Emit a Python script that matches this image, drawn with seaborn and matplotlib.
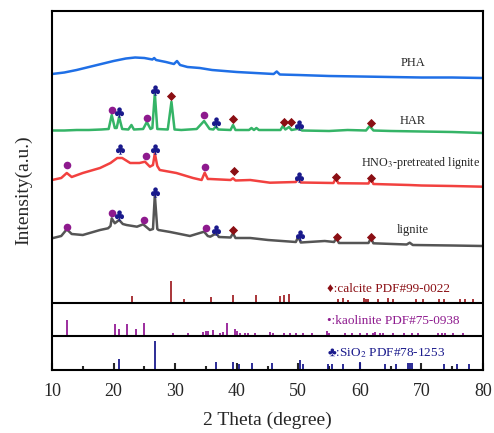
import numpy as np
import pandas as pd
import matplotlib
matplotlib.use("Agg")
import matplotlib.pyplot as plt
import seaborn as sns

# ---- XRD patterns (2theta, stacked intensity in a.u.) ----
pha_x = [10, 12, 14, 16, 18, 20, 22, 23.5, 25, 26.3, 26.6, 26.9, 28.5, 29.8, 30.3, 30.8,
         32, 34, 36, 38, 40, 43, 46, 46.5, 47, 50, 55, 60, 65, 70, 75, 80]
pha_y = [296, 297.5, 300, 303, 306, 309, 311.5, 312.5, 312, 310.5, 312, 310, 308, 306, 309, 305,
         303, 302, 300, 299, 298, 297, 296, 298.5, 295.5, 295, 294, 293.5, 293, 292.5, 292.5, 292]

har_x = [10, 12, 14, 16, 18, 19.2, 19.7, 20.2, 20.5, 20.9, 21.4, 22.4, 22.9, 23.3, 24.8, 25.4,
         26.0, 26.3, 26.7, 27.1, 28.8, 29.4, 29.9, 31, 33.5, 34.7, 35.6, 36.2, 36.6, 37.0,
         39.0, 39.4, 39.8, 42.0, 42.4, 42.8, 43.2, 43.6, 45, 47.1, 47.5, 47.9, 48.5, 48.9,
         50.2, 50.6, 55, 58, 61.0, 61.6, 62.2, 65, 70, 75, 80]
har_y = [239.5, 239.5, 240, 240, 240.5, 241, 255, 242, 242, 253, 241, 240.5, 245, 240.5, 241, 248,
         241, 242, 276.7, 241, 240.5, 268.3, 240.5, 240, 241, 249, 241, 240.5, 243.5, 240.5,
         240, 245, 240, 240, 242, 240, 242, 240, 240, 240, 244, 240.5, 243, 240,
         241.5, 239.5, 239, 240, 239.5, 244, 239.5, 239, 238.5, 238, 237]

hno3_x = [10, 11.5, 12.4, 13.2, 15, 17.8, 19.5, 20.6, 21.4, 22.7, 24.2, 25.1, 25.9, 26.4, 26.7,
          27.1, 27.5, 30.2, 32.9, 34.3, 34.8, 35.3, 35.7, 39.0, 39.4, 39.8, 42.2, 45.4, 49.6,
          50.0, 50.4, 55.7, 56.1, 56.5, 61.4, 61.8, 62.2, 68.0, 70, 75, 80]
hno3_y = [190, 192, 197, 193, 197, 202, 207, 212, 212, 207, 207, 208.3, 203.3, 205, 216.7,
          204, 200, 197, 192, 190, 197.3, 191, 191, 190, 191.7, 189.5, 190, 187.3, 188,
          191.7, 187.5, 187, 191.7, 186.8, 186.5, 191.7, 186, 185, 184.5, 184, 183.3]

lig_x = [10, 11.5, 12.4, 13.2, 15, 17.8, 19.1, 19.5, 19.7, 20.2, 20.9, 21.5, 22.1, 23.8, 24.8,
         25.9, 26.4, 26.7, 27.1, 27.3, 29.2, 32.4, 34.7, 35.3, 35.7, 36.7, 37.1, 39.0, 39.4,
         39.8, 42.2, 45.1, 49.6, 50.0, 50.4, 54.3, 55.8, 56.2, 56.6, 61.4, 61.8, 62.2, 67.6,
         68.1, 68.6, 75, 80]
lig_y = [131.7, 134, 140.7, 136, 135, 140, 141.7, 144, 151.7, 146.7, 150, 146, 145, 143.3, 145.7,
         140, 141, 175, 141, 140, 138, 134, 138.3, 134, 133.3, 136.7, 133, 132.5, 136.7,
         132, 132, 130, 128, 133.3, 127.5, 129, 128, 131.7, 127, 127, 131.7, 126.7, 125.5,
         127.3, 125, 124.5, 124]

# ---- phase markers (2theta, y, phase) ----
har_marks = [(19.7, 260, "k"), (20.9, 258.3, "q"), (25.4, 251.7, "k"), (26.7, 280, "q"),
             (29.4, 274.3, "c"), (34.7, 255, "k"), (36.6, 248.3, "q"), (39.4, 250.7, "c"),
             (47.6, 248.3, "c"), (48.8, 248, "c"), (50.1, 245, "q"), (61.8, 247.3, "c")]
hno3_marks = [(12.4, 205, "k"), (21.1, 220.7, "q"), (25.2, 214.3, "k"), (26.8, 221, "q"),
              (34.9, 203.3, "k"), (39.6, 199, "c"), (50.1, 193.3, "q"), (56.1, 193.3, "c"),
              (61.8, 191.7, "c")]
lig_marks = [(12.4, 143.3, "k"), (19.8, 156.7, "k"), (20.9, 155, "q"), (24.9, 150, "k"),
             (26.8, 178.3, "q"), (35.0, 141.7, "k"), (36.7, 140, "q"), (39.4, 140, "c"),
             (50.2, 135, "q"), (56.3, 133.3, "c"), (61.8, 133.3, "c")]

# ---- standard cards (stick positions, heights) ----
calcite_pos = [23.05, 29.4, 31.4, 35.9, 39.4, 43.2, 47.1, 47.6, 48.5, 56.5, 57.2, 58.1, 60.6,
               61.0, 61.4, 63.0, 64.6, 65.4, 69.1, 70.2, 72.9, 73.7, 76.2, 77.1, 78.4]
calcite_h = [7, 22.3, 3.7, 5.7, 8, 7.7, 7, 8.3, 9, 3.7, 4.7, 3, 4.7,
             4, 4.3, 3.7, 5, 4, 3.7, 4, 3.7, 3.7, 3.7, 4, 3.7]
kaol_pos = [12.5, 20.2, 20.9, 22.1, 23.6, 25.0, 29.7, 32.1, 34.6, 35.0, 35.4, 36.2, 37.3, 37.8,
            38.4, 39.7, 40.0, 40.5, 41.3, 41.9, 43.0, 45.4, 45.9, 47.6, 48.7, 49.7, 50.8, 52.2,
            54.7, 55.0, 57.6, 58.7, 60.0, 61.1, 62.2, 62.5, 63.3, 63.8, 65.4, 67.1, 68.4, 69.5,
            72.7, 73.3, 73.8, 75.1, 76.7]
kaol_h = [16, 12, 7, 12, 7, 12.7, 3.3, 2.7, 4.3, 5, 5.3, 6, 3.3, 4.3,
          13.3, 7, 5.3, 3.3, 2.7, 2.7, 3.3, 4.3, 3.3, 3.3, 2.7, 2.7, 2.7, 2.7,
          5.3, 3.3, 2.7, 2.7, 2.7, 3.3, 3.3, 4, 2.7, 2.7, 2.7, 2.7, 2.7, 2.7,
          3.3, 3.3, 3.3, 2.7, 3.3]
sio2_pos = [20.9, 26.7, 36.6, 39.4, 40.4, 42.5, 45.8, 50.2, 50.7, 54.9, 55.4, 57.2, 60.0,
            64.1, 65.9, 67.8, 68.2, 68.5, 73.6, 75.7, 77.7]
sio2_h = [11, 29, 7.7, 7.7, 5.7, 7.3, 6.7, 10, 5.7, 6, 6, 5.7, 7.7,
          6, 5.7, 6.7, 6.7, 6.7, 6, 6, 5.7]

curve_names = ["PHA", "HAR", "HNO$_3$-pretreated lignite", "lignite"]
curve_colors = ["#1f6fe6", "#35b467", "#f2413f", "#555555"]

sns.set_style("ticks")
plt.rcParams["font.family"] = ["Liberation Serif", "DejaVu Sans"]
plt.rcParams["mathtext.fontset"] = "stix"

fig = plt.figure(figsize=(4.94, 4.33), dpi=100)
ax = fig.add_axes([52 / 494, 63 / 433, 431 / 494, 359 / 433])

curves = [(pha_x, pha_y), (har_x, har_y), (hno3_x, hno3_y), (lig_x, lig_y)]
for (cx, cy), col in zip(curves, curve_colors):
    df = pd.DataFrame({"theta": cx, "I": cy})
    sns.lineplot(data=df, x="theta", y="I", ax=ax, color=col, lw=1.8)

phase_style = {
    "c": dict(marker="D", color="#8b0f14", s=22),
    "k": dict(marker="o", color="#8e1a8e", s=30),
    "q": dict(marker=r"$\clubsuit$", color="#1a1a8c", s=55),
}
for marks in (har_marks, hno3_marks, lig_marks):
    mdf = pd.DataFrame(marks, columns=["theta", "y", "phase"])
    for ph, sub in mdf.groupby("phase"):
        st = phase_style[ph]
        ax.scatter(sub["theta"], sub["y"], marker=st["marker"], color=st["color"],
                   s=st["s"], lw=0, zorder=5)

# stick patterns, each in its own strip
ax.vlines(calcite_pos, 67, 67 + np.array(calcite_h), color="#a3252a", lw=1.3)
ax.vlines(kaol_pos, 34, 34 + np.array(kaol_h), color="#941c96", lw=1.3)
ax.vlines(sio2_pos, 0, np.array(sio2_h), color="#1b1b8e", lw=1.3)
ax.axhline(67, color="black", lw=1.5)
ax.axhline(34, color="black", lw=1.5)

# curve labels
ax.text(68.6, 307, "PHA", ha="center", va="center", fontsize=9)
ax.text(68.6, 249.3, "HAR", ha="center", va="center", fontsize=9)
ax.text(79.6, 206.7, curve_names[2], ha="right", va="center", fontsize=8.7)
ax.text(68.6, 140, "lignite", ha="center", va="center", fontsize=9)

# card labels
ax.text(54.7, 80.7, "\u2666:calcite PDF#99-0022", color="#8b0f14", fontsize=9.5, va="center")
ax.text(54.7, 49, "\u2022:kaolinite PDF#75-0938", color="#8e1a8e", fontsize=9.5, va="center")
ax.text(54.7, 16.7, "\u2663:SiO$_2$ PDF#78-1253", color="#1a1a8c", fontsize=9.5, va="center")

ax.set_xlim(10, 80)
ax.set_ylim(0, 359)
ax.set_xticks(range(10, 81, 10))
ax.set_xticks(range(15, 80, 10), minor=True)
ax.set_yticks([])
ax.tick_params(axis="x", which="major", direction="in", length=5, width=1.5,
               labelsize=13, pad=9)
ax.tick_params(axis="x", which="minor", direction="in", length=3, width=1.5)
for sp in ax.spines.values():
    sp.set_linewidth(1.5)
    sp.set_color("black")

ax.set_xlabel("2 Theta (degree)", fontsize=14, labelpad=9)
ax.set_ylabel("Intensity(a.u.)", fontsize=14, labelpad=14)

fig.savefig("out.png", dpi=100)
